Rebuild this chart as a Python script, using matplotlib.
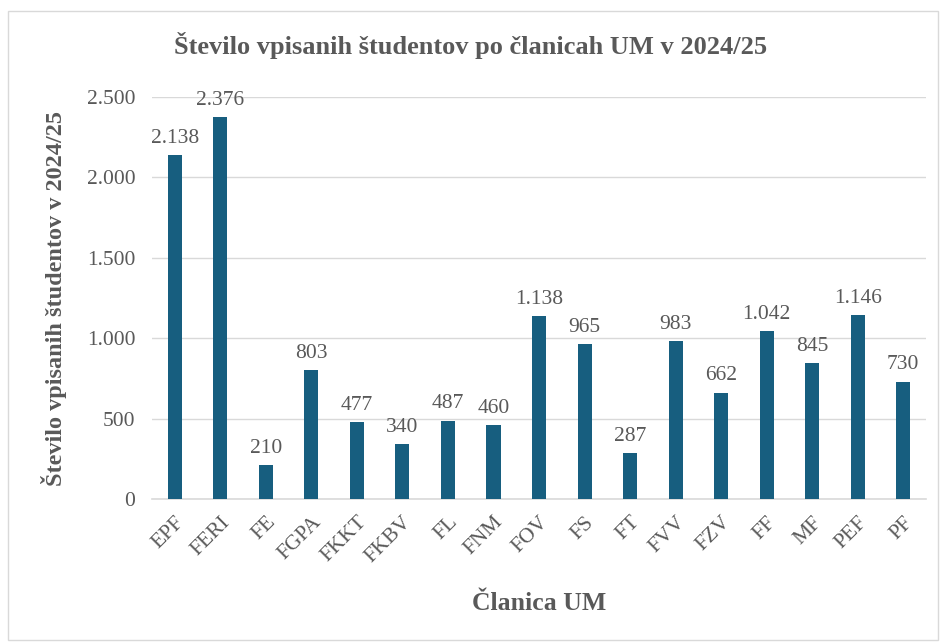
import matplotlib.pyplot as plt
from matplotlib.patches import Rectangle

plt.rcParams['font.family'] = ['Liberation Serif', 'DejaVu Serif']

# podatki
clanice = ["EPF", "FERI", "FE", "FGPA", "FKKT", "FKBV", "FL", "FNM", "FOV",
           "FS", "FT", "FVV", "FZV", "FF", "MF", "PEF", "PF"]
studenti = [2138, 2376, 210, 803, 477, 340, 487, 460, 1138,
            965, 287, 983, 662, 1042, 845, 1146, 730]
y_ticks = [0, 500, 1000, 1500, 2000, 2500]
y_tick_labels = ["0", "500", "1.000", "1.500", "2.000", "2.500"]

bar_color = "#175E7F"
text_color = "#595959"


def fmt(v):
    return f"{v:,}".replace(",", ".")


fig = plt.figure(figsize=(9.44, 6.43), dpi=100)
ax = fig.add_axes([0.161, 0.224, 0.82, 0.625])

x = range(len(clanice))
bars = ax.bar(x, studenti, width=0.31, color=bar_color, zorder=3)

for b, v in zip(bars, studenti):
    ax.text(b.get_x() + b.get_width() / 2, v + 45, fmt(v), ha="center", va="bottom",
            fontsize=15.5, color=text_color)

ax.set_ylim(0, 2500)
ax.set_xlim(-0.5, len(clanice) - 0.5)
ax.set_yticks(y_ticks)
ax.set_yticklabels(y_tick_labels, fontsize=15.5, color=text_color)
ax.set_xticks(list(x))
ax.set_xticklabels(clanice, rotation=45, ha="right", rotation_mode="anchor",
                   fontsize=15.5, color=text_color)
ax.tick_params(axis="both", length=0)
ax.tick_params(axis="y", pad=12)
ax.tick_params(axis="x", pad=10)

ax.grid(axis="y", color="#D9D9D9", linewidth=1, zorder=0)
for s in ["top", "right", "left"]:
    ax.spines[s].set_visible(False)
ax.spines["bottom"].set_color("#D9D9D9")
ax.spines["bottom"].set_linewidth(1.2)

ax.set_ylabel("Število vpisanih študentov v 2024/25", fontsize=17.5, fontweight="bold",
              color=text_color, labelpad=14)
ax.set_xlabel("Članica UM", fontsize=18.5, fontweight="bold", color=text_color, labelpad=18)
fig.text(0.498, 0.93, "Število vpisanih študentov po članicah UM v 2024/25",
         ha="center", va="center", fontsize=19, fontweight="bold", color=text_color)

# okvir okoli grafa
fig.patches.append(Rectangle((0.009, 0.005), 0.985, 0.978, transform=fig.transFigure,
                             fill=False, edgecolor="#D9D9D9", linewidth=1))

fig.savefig("out.png", dpi=100)
